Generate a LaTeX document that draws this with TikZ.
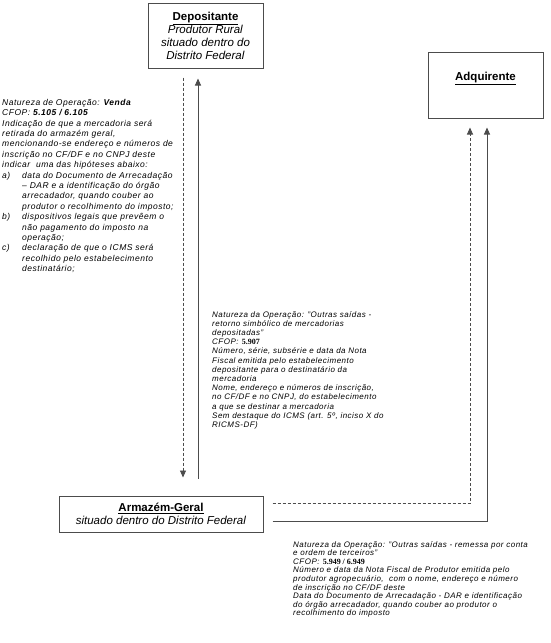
\documentclass[tikz,border=0pt]{standalone}
\usepackage{fontspec}
\setmainfont{Liberation Sans}
\newfontfamily\cfopfont{Liberation Serif}
\usepackage{tikz}
\usetikzlibrary{calc}
\usetikzlibrary{arrows.meta, positioning}
\definecolor{linegray}{gray}{0.3}
\newcommand{\itm}[1]{\makebox[20pt][l]{#1}}
\newcommand{\ind}{\hspace*{20pt}}
\newcommand{\cfop}[1]{\textup{\cfopfont\bfseries #1}}

\begin{document}
\begin{tikzpicture}[x=1pt, y=-1pt, >={Triangle[length=7pt, width=6pt]},
  box/.style={draw=linegray, line width=1pt, inner sep=0pt, align=center, font=\fontsize{11.5}{13}\selectfont},
  note/.style={anchor=north west, inner sep=0pt, align=left, font=\fontsize{8.5}{10.4}\selectfont\itshape\addfontfeature{LetterSpace=6}},
  flow/.style={draw=linegray, line width=0.9pt},
  dashflow/.style={flow, dash pattern=on 3pt off 2pt}]
  \useasboundingbox (0,0) rectangle (550,643);

  % the three parties
  \node[box, minimum width=115pt, minimum height=65pt] (dep) at (205.5,35.5)
        {\underline{\textbf{Depositante}}\\ \textit{Produtor Rural}\\ \textit{situado dentro do}\\ \textit{Distrito Federal}};
  \node[box, minimum width=115pt, minimum height=66pt, text depth=18pt] (adq) at (485.5,85)
        {\underline{\textbf{Adquirente}}};
  \node[box, minimum width=204pt, minimum height=36pt] (arm) at (161,514)
        {\underline{\textbf{Armazém-Geral}}\\ \textit{situado dentro do Distrito Federal}};

  % notes
  \node[note] (venda) at (2,99) {Natureza de Operação: \textbf{Venda}\\
    CFOP: \textbf{5.105 / 6.105}\\
    Indicação de que a mercadoria será\\
    retirada do armazém geral,\\
    mencionando-se endereço e números de\\
    inscrição no CF/DF e no CNPJ deste\\
    indicar\ \ uma das hipóteses abaixo:\\
    \itm{a)}data do Documento de Arrecadação\\
    \ind -- DAR e a identificação do órgão\\
    \ind arrecadador, quando couber ao\\
    \ind produtor o recolhimento do imposto;\\
    \itm{b)}dispositivos legais que prevêem o\\
    \ind não pagamento do imposto na\\
    \ind operação;\\
    \itm{c)}declaração de que o ICMS será\\
    \ind recolhido pelo estabelecimento\\
    \ind destinatário;};
  \node[note, font=\fontsize{8}{9.2}\selectfont\itshape\addfontfeature{LetterSpace=6}] (retorno) at (212,311)
    {Natureza da Operação: "Outras saídas -\\
    retorno simbólico de mercadorias\\
    depositadas"\\
    CFOP: \cfop{5.907}\\
    Número, série, subsérie e data da Nota\\
    Fiscal emitida pelo estabelecimento\\
    depositante para o destinatário da\\
    mercadoria\\
    Nome, endereço e números de inscrição,\\
    no CF/DF e no CNPJ, do estabelecimento\\
    a que se destinar a mercadoria\\
    Sem destaque do ICMS (art. 5º, inciso X do\\
    RICMS-DF)};
  \node[note, font=\fontsize{8}{8.6}\selectfont\itshape\addfontfeature{LetterSpace=6}] (remessa) at (293,541)
    {Natureza da Operação: "Outras saídas - remessa por conta\\
    e ordem de terceiros"\\
    CFOP: \cfop{5.949 / 6.949}\\
    Número e data da Nota Fiscal de Produtor emitida pelo\\
    produtor agropecuário,\ \ com o nome, endereço e número\\
    de inscrição no CF/DF deste\\
    Data do Documento de Arrecadação - DAR e identificação\\
    do órgão arrecadador, quando couber ao produtor o\\
    recolhimento do imposto};

  % flows
  \draw[dashflow, ->] ($(dep.south)+(-22.5,9)$) -- ($(dep.south |- arm.north)+(-22.5,-18)$);
  \draw[flow, ->] ($(dep.south |- arm.north)+(-7.5,-17)$) -- ($(dep.south)+(-7.5,10)$);
  \draw[dashflow, ->] ($(arm.east)+(9,-11)$) -| ($(adq.south)+(-15.5,9)$);
  \draw[flow, ->] ($(arm.east)+(9,7)$) -| ($(adq.south)+(1.5,9)$);
\end{tikzpicture}
\end{document}
